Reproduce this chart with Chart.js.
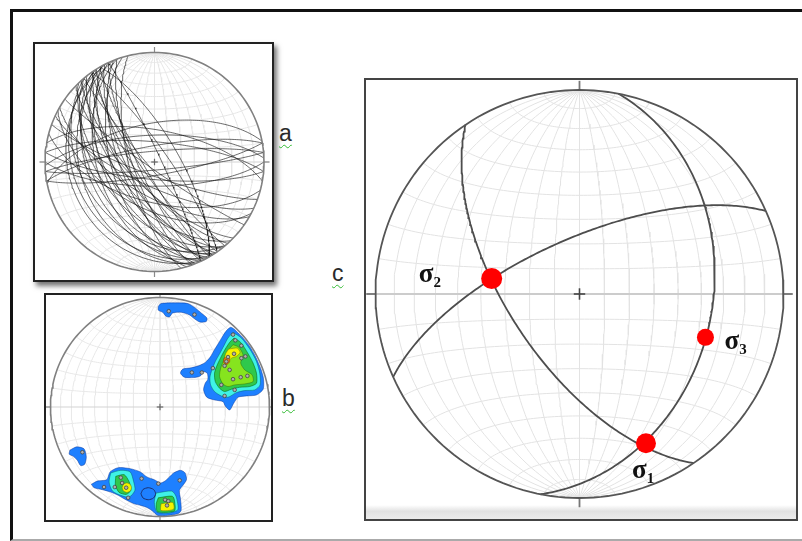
<!DOCTYPE html>
<html><head><meta charset="utf-8">
<script src="https://cdn.jsdelivr.net/npm/chart.js@4.4.1/dist/chart.umd.min.js"></script>
<style>
html,body{margin:0;padding:0;background:#fff;width:802px;height:541px;overflow:hidden;position:relative;font-family:"Liberation Sans",Arial,sans-serif;}
#frame{position:absolute;left:10px;top:9px;width:830px;height:532px;box-sizing:border-box;border-left:3px solid #111;border-top:3px solid #111;border-bottom:2px solid #aaa;}
.box{position:absolute;box-sizing:border-box;background:#fff;}
#boxA{left:33px;top:42px;width:241px;height:240px;border:2px solid #222;box-shadow:3px 4px 5px rgba(0,0,0,0.55);}
#boxB{left:44px;top:293px;width:229px;height:229px;border:2px solid #222;}
#boxC{left:364px;top:78px;width:434px;height:443px;border:2px solid #444;}
#stripC{position:absolute;left:366px;top:505px;width:430px;height:14px;background:linear-gradient(#fff,#e2e2e2 45%,#ececec);}
canvas{position:absolute;}
.lbl{position:absolute;font-size:23px;line-height:23px;color:#2a2a2a;text-decoration:underline wavy #33bb33;text-decoration-thickness:1px;text-underline-offset:3px;}
</style></head>
<body>
<div id="frame"></div>
<div class="box" id="boxA"></div>
<div class="box" id="boxB"></div>
<div class="box" id="boxC"></div>
<div id="stripC"></div>
<canvas id="netA"></canvas>
<canvas id="netB"></canvas>
<canvas id="netC"></canvas>
<span class="lbl" style="left:279px;top:122px">a</span>
<span class="lbl" style="left:282px;top:387px">b</span>
<span class="lbl" style="left:332px;top:262px">c</span>
<script>
// ================= DATA =================
// Panel a : fault planes (dip direction, dip) in degrees
const planeDipDirA = [230,235,240,245,238,250,228,243,256,224,236,248,232,241,253,226,238,245,230,250,236,242,230,248,238,244,
                      55,60,65,
                      355,350,5,358,349,10,175,170,185,180,
                      200,205,210,195,215,208];
const planeDipA    = [85,80,82,78,75,74,72,70,71,71,67,65,63,61,58,57,55,52,50,47,44,40,36,33,28,23,
                      80,72,85,
                      82,78,75,70,61,66,84,80,77,72,
                      80,72,65,60,85,55];

// Panel b : pole-density contour polygons, per level (net x, y)
const contourBlue = [
 [[-0.015,0.920],[0.009,0.945],[0.131,0.951],[0.254,0.945],[0.321,0.905],[0.376,0.859],[0.428,0.813],[0.422,0.780],[0.361,0.777],[0.309,0.810],[0.269,0.841],[0.193,0.865],[0.116,0.859],[0.086,0.823],[0.055,0.829],[0.024,0.865],[-0.015,0.884]],
 [[0.68,0.71],[0.75,0.64],[0.815,0.56],[0.875,0.455],[0.92,0.35],[0.945,0.26],[0.942,0.162],[0.881,0.110],[0.789,0.101],[0.713,0.089],[0.673,0.034],[0.636,-0.028],[0.596,0.009],[0.575,0.049],[0.498,0.064],[0.428,0.089],[0.398,0.156],[0.413,0.217],[0.437,0.254],[0.431,0.309],[0.391,0.324],[0.370,0.284],[0.309,0.269],[0.223,0.272],[0.187,0.309],[0.208,0.346],[0.284,0.358],[0.352,0.376],[0.413,0.407],[0.459,0.456],[0.492,0.514],[0.535,0.584],[0.575,0.651],[0.609,0.700],[0.645,0.728]],
 [[-0.627,-0.706],[-0.572,-0.676],[-0.486,-0.664],[-0.456,-0.593],[-0.382,-0.554],[-0.272,-0.563],[-0.180,-0.593],[-0.119,-0.639],[-0.052,-0.664],[0.003,-0.694],[0.046,-0.676],[0.086,-0.639],[0.125,-0.602],[0.187,-0.578],[0.229,-0.602],[0.242,-0.664],[0.208,-0.716],[0.177,-0.761],[0.187,-0.838],[0.193,-0.945],[0.162,-0.975],[0.070,-0.990],[-0.021,-0.990],[-0.067,-0.951],[-0.113,-0.920],[-0.174,-0.899],[-0.235,-0.884],[-0.312,-0.847],[-0.382,-0.807],[-0.450,-0.777],[-0.526,-0.755],[-0.602,-0.737]],
 [[-0.823,-0.394],[-0.761,-0.364],[-0.694,-0.382],[-0.673,-0.456],[-0.688,-0.523],[-0.725,-0.535],[-0.755,-0.486],[-0.792,-0.450],[-0.829,-0.431]]
];
const contourCyan = [
 [[0.667,0.682],[0.743,0.630],[0.820,0.529],[0.881,0.416],[0.911,0.309],[0.914,0.202],[0.865,0.156],[0.774,0.150],[0.697,0.131],[0.621,0.089],[0.560,0.101],[0.498,0.141],[0.462,0.202],[0.456,0.272],[0.474,0.339],[0.505,0.416],[0.544,0.486],[0.584,0.560],[0.621,0.630]],
 [[-0.450,-0.602],[-0.358,-0.578],[-0.272,-0.593],[-0.242,-0.676],[-0.229,-0.761],[-0.281,-0.823],[-0.358,-0.807],[-0.434,-0.768],[-0.465,-0.685]],
 [[-0.037,-0.786],[0.107,-0.768],[0.147,-0.817],[0.162,-0.939],[0.070,-0.969],[-0.028,-0.960],[-0.052,-0.869]]
];
const contourGreen = [
 [[0.676,0.630],[0.737,0.590],[0.798,0.498],[0.850,0.401],[0.881,0.309],[0.881,0.217],[0.820,0.187],[0.728,0.180],[0.651,0.162],[0.590,0.141],[0.544,0.171],[0.505,0.232],[0.498,0.309],[0.523,0.385],[0.560,0.462],[0.596,0.529],[0.636,0.590]],
 [[-0.404,-0.633],[-0.327,-0.618],[-0.281,-0.685],[-0.266,-0.761],[-0.309,-0.798],[-0.373,-0.780],[-0.407,-0.716]],
 [[-0.015,-0.829],[0.116,-0.817],[0.138,-0.899],[0.131,-0.951],[-0.021,-0.957],[-0.034,-0.884]]
];
const contourLime = [
 [[0.667,0.569],[0.719,0.547],[0.758,0.477],[0.737,0.401],[0.774,0.339],[0.841,0.294],[0.850,0.232],[0.774,0.211],[0.682,0.202],[0.621,0.187],[0.575,0.211],[0.544,0.278],[0.554,0.355],[0.584,0.431],[0.615,0.508]]
];
const contourYellow = [
 [[0.627,0.529],[0.706,0.538],[0.731,0.498],[0.697,0.462],[0.651,0.446],[0.615,0.407],[0.590,0.437],[0.599,0.486]],
 [[-0.346,-0.737],[-0.333,-0.706],[-0.303,-0.694],[-0.273,-0.706],[-0.260,-0.737],[-0.273,-0.768],[-0.303,-0.780],[-0.333,-0.768]],
 [[0.009,-0.884],[0.116,-0.872],[0.125,-0.933],[0.009,-0.945]]
];
const contourOrange = [
 [[0.584,0.446],[0.627,0.453],[0.636,0.416],[0.609,0.388],[0.581,0.407]]
];
const contourHole = [
 [[-0.174,-0.792],[-0.155,-0.753],[-0.107,-0.737],[-0.059,-0.753],[-0.040,-0.792],[-0.059,-0.831],[-0.107,-0.847],[-0.155,-0.831]]
];
const polesB = [[0.080,0.875],[0.315,0.844],[0.667,0.661],[0.688,0.609],[0.743,0.560],[0.780,0.462],[0.676,0.486],[0.621,0.456],[0.606,0.416],[0.590,0.376],[0.636,0.339],[0.483,0.355],[0.382,0.315],[0.291,0.315],[0.560,0.202],[0.682,0.156],[0.590,0.101],[0.737,0.272],[0.798,0.284],[0.667,0.254],[0.743,0.446],
 [-0.358,-0.645],[-0.309,-0.737],[-0.291,-0.829],[-0.413,-0.731],[-0.511,-0.731],[-0.346,-0.694],[0.046,-0.847],[0.076,-0.859],[0.064,-0.899],[0.180,-0.670],[-0.015,-0.700],[-0.168,-0.654],[-0.709,-0.413]];

// Panel c : three planes (dip direction, dip) and principal stresses (trend, plunge)
const planeDipDirC = [236, 101, 336];
const planeDipC    = [62, 35, 68];
const sigmaNames   = ['1', '2', '3'];
const sigmaTrend   = [156, 280, 109];
const sigmaPlunge  = [21, 54, 35];

// ================= GEOMETRY (lower-hemisphere equal-area net) =================
const D2R = Math.PI/180;
function proj(tr, pl){ const r = Math.sqrt(Math.max(0, 1 - Math.sin(pl*D2R))); return {x: r*Math.sin(tr*D2R), y: r*Math.cos(tr*D2R)}; }
function projVec(n, e, d){ if (d < 0){ n=-n; e=-e; d=-d; } const L = Math.hypot(n,e,d); return proj(Math.atan2(e,n)/D2R, Math.asin(Math.min(1, d/L))/D2R); }
function greatCircle(dd, dip, steps){
  steps = steps || 120;
  const s=(dd-90)*D2R, a=dd*D2R, p=dip*D2R, out=[];
  for (let i=0;i<=steps;i++){
    const t=Math.PI*i/steps, c=Math.cos(t), sn=Math.sin(t);
    out.push(projVec(c*Math.cos(s)+sn*Math.cos(p)*Math.cos(a), c*Math.sin(s)+sn*Math.cos(p)*Math.sin(a), sn*Math.sin(p)));
  }
  return out;
}
function smallCircleNS(a, steps){
  steps = steps || 90; const out=[]; const ca=Math.cos(a*D2R), sa=Math.sin(a*D2R);
  for (let i=0;i<=steps;i++){ const f=Math.PI*i/steps; out.push(projVec(ca, sa*Math.cos(f), sa*Math.sin(f))); }
  return out;
}
function primitive(){ const out=[]; for (let t=0;t<=360;t+=2) out.push(proj(t,0)); return out; }
function lineDS(pts, color, width, extra){ return Object.assign({data:pts, showLine:true, borderColor:color, borderWidth:width, pointRadius:0, fill:false, tension:0}, extra||{}); }
function gridDS(color, width){
  const ds=[];
  for (let d=10; d<=80; d+=10){ ds.push(lineDS(greatCircle(90,d,90),color,width)); ds.push(lineDS(greatCircle(270,d,90),color,width)); }
  ds.push(lineDS(greatCircle(90,90,4),color,width));
  for (let a=10; a<=170; a+=10){ if (a!==90) ds.push(lineDS(smallCircleNS(a),color,width)); }
  return ds;
}
function axisDS(ext, tick, axisColor, tickColor, w){
  return [
    lineDS([{x:-ext,y:0},{x:ext,y:0}], axisColor, w),
    lineDS([{x:-ext,y:0},{x:-1,y:0}], tickColor, w),
    lineDS([{x:1,y:0},{x:ext,y:0}], tickColor, w),
    lineDS([{x:0,y:1},{x:0,y:1+tick}], tickColor, w),
    lineDS([{x:0,y:-1},{x:0,y:-1-tick}], tickColor, w)
  ];
}
function crossDS(s, color, w){ return [lineDS([{x:-s,y:0},{x:s,y:0}],color,w), lineDS([{x:0,y:-s},{x:0,y:s}],color,w)]; }
function polyDS(poly, fillCol, lineCol){
  const pts = poly.map(p=>({x:p[0], y:p[1]})); pts.push({x:poly[0][0], y:poly[0][1]});
  return lineDS(pts, lineCol, 0.8, {fill:'shape', backgroundColor:fillCol, tension:0.25});
}

function makeNet(id, box, cx, cy, R, datasets, plugins){
  const cv = document.getElementById(id);
  cv.width = box.w; cv.height = box.h;
  cv.style.left = box.l+'px'; cv.style.top = box.t+'px';
  cv.style.width = box.w+'px'; cv.style.height = box.h+'px';
  datasets.forEach((d,i)=>{ d.order = -i; d.clip = false; });
  return new Chart(cv, {
    type:'scatter',
    data:{datasets},
    options:{
      responsive:false, animation:false, events:[], devicePixelRatio:1,
      layout:{padding:0, autoPadding:false},
      scales:{
        x:{type:'linear', display:false, min:(box.l-cx)/R, max:(box.l+box.w-cx)/R},
        y:{type:'linear', display:false, min:(cy-box.t-box.h)/R, max:(cy-box.t)/R}
      },
      plugins:{legend:{display:false}, tooltip:{enabled:false}}
    },
    plugins: plugins||[]
  });
}

// ---------- Panel a ----------
(function(){
  const ds = gridDS('#e6e6e6', 1);
  ds.push(...axisDS(1.05, 0.05, '#d4d4d4', '#8a8a8a', 1.2));
  planeDipDirA.forEach((dd,i)=> ds.push(lineDS(greatCircle(dd, planeDipA[i]), 'rgba(15,15,15,0.62)', 1)));
  ds.push(lineDS(primitive(), '#808080', 1.6));
  ds.push(...crossDS(0.03, '#666', 1.2));
  makeNet('netA', {l:35,t:44,w:237,h:236}, 154.5, 162, 109.5, ds);
})();

// ---------- Panel b ----------
(function(){
  const ds = gridDS('#e8e8e8', 1);
  ds.push(...axisDS(1.05, 0.05, '#d4d4d4', '#8a8a8a', 1.2));
  contourBlue.forEach(p=>ds.push(polyDS(p, '#1e80ff', 'rgba(0,40,140,0.55)')));
  contourCyan.forEach(p=>ds.push(polyDS(p, '#3ff2e6', 'rgba(0,90,110,0.6)')));
  contourGreen.forEach(p=>ds.push(polyDS(p, '#2fc84c', 'rgba(0,80,0,0.6)')));
  contourLime.forEach(p=>ds.push(polyDS(p, '#86e41e', 'rgba(40,90,0,0.5)')));
  contourYellow.forEach(p=>ds.push(polyDS(p, '#f4f400', 'rgba(120,110,0,0.6)')));
  contourOrange.forEach(p=>ds.push(polyDS(p, '#ff7a10', 'rgba(120,40,0,0.6)')));
  contourHole.forEach(p=>{ const d = polyDS(p, 'rgba(0,0,0,0)', '#1a2f70'); d.fill=false; d.borderWidth=1; ds.push(d); });
  ds.push({data: polesB.map(p=>({x:p[0],y:p[1]})), showLine:false, pointRadius:1.8, pointBackgroundColor:'#b0b0b0', pointBorderColor:'#444', pointBorderWidth:0.8});
  ds.push(lineDS(primitive(), '#808080', 1.6));
  ds.push(...crossDS(0.03, '#666', 1.2));
  makeNet('netB', {l:46,t:295,w:225,h:225}, 160, 407, 109.5, ds);
})();

// ---------- Panel c ----------
(function(){
  const ds = gridDS('#e3e3e3', 1);
  ds.push(...axisDS(1.045, 0.045, '#cccccc', '#777777', 1.8));
  planeDipDirC.forEach((dd,i)=> ds.push(lineDS(greatCircle(dd, planeDipC[i], 180), '#4d4d4d', 1.8)));
  ds.push(lineDS(primitive(), '#555555', 1.8));
  ds.push(...crossDS(0.028, '#444', 1.6));
  const sig = {data: sigmaTrend.map((t,i)=>proj(t, sigmaPlunge[i])), showLine:false, pointRadius:[10,10.5,8.5], pointBackgroundColor:'#ff0000', pointBorderColor:'#ff0000', pointBorderWidth:0, isSigma:true};
  ds.push(sig);
  const labelOffset = [[-14,35],[-73,3],[19,12]];
  const sigmaLabels = {
    id:'sigmaLabels',
    afterDatasetsDraw(chart){
      const idx = chart.data.datasets.findIndex(d=>d.isSigma);
      const meta = chart.getDatasetMeta(idx);
      const ctx = chart.ctx;
      ctx.save(); ctx.fillStyle='#111'; ctx.textBaseline='alphabetic'; ctx.textAlign='left';
      meta.data.forEach((el,i)=>{
        const x = el.x + labelOffset[i][0], y = el.y + labelOffset[i][1];
        ctx.font = 'bold 27px "Liberation Serif","DejaVu Serif",serif';
        ctx.fillText('σ', x, y);
        const w = ctx.measureText('σ').width;
        ctx.font = 'bold 15px "Liberation Serif","DejaVu Serif",serif';
        ctx.fillText(sigmaNames[i], x + w, y + 5);
      });
      ctx.restore();
    }
  };
  makeNet('netC', {l:366,t:80,w:430,h:439}, 579.5, 294, 204, ds, [sigmaLabels]);
})();
</script>
</body></html>
